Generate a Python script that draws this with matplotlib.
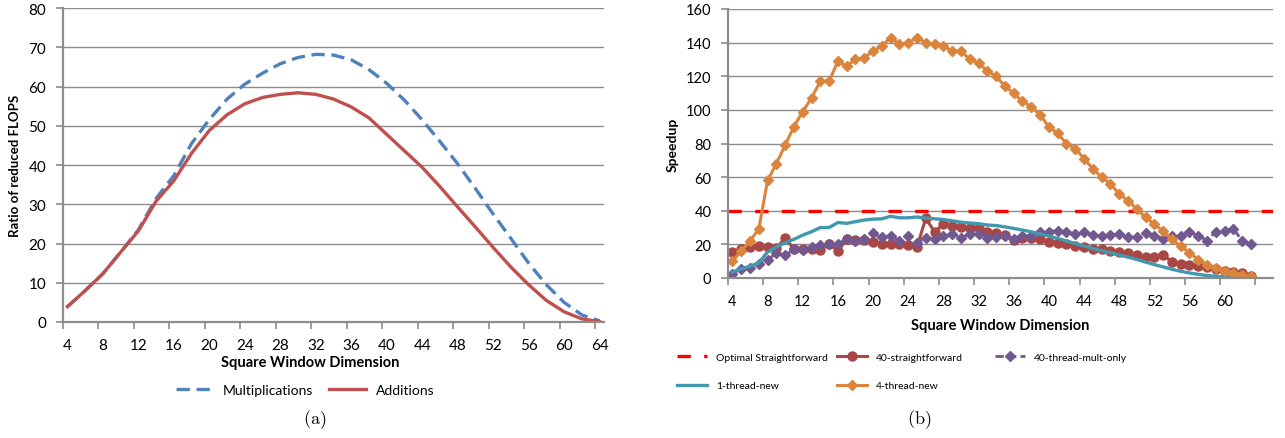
import matplotlib.pyplot as plt
import numpy as np
from matplotlib.lines import Line2D

plt.rcParams['font.family'] = ['Lato', 'DejaVu Sans']
plt.rcParams['mathtext.fontset'] = 'cm'

# (a) ratio of reduced FLOPS, window size 4..64 (every 2)
dim_a = list(range(4, 65, 2))
mult = [3.9, 8, 12.3, 17.8, 23.5, 31.5, 37.3, 45.5, 51.6, 56.8, 60.6,
        63.4, 65.8, 67.4, 68.2, 68.0, 66.8, 64.3, 60.8, 56.5, 51.5,
        46.0, 40.3, 34.0, 27.5, 21.3, 15.0, 9.5, 5.0, 1.8, 0.3]
adds = [3.9, 8, 12.3, 17.8, 23.2, 30.8, 36.0, 43.0, 48.8, 52.8, 55.6,
        57.2, 58.0, 58.4, 58.0, 56.8, 54.8, 52.0, 47.8, 43.6, 39.4,
        34.5, 29.3, 24.2, 19.0, 14.0, 9.5, 5.5, 2.6, 0.8, 0.1]

# (b) speedup, window size 4..63
dim_b = list(range(4, 64))
optimal_speedup = 40
straight_40 = [15.5, 17, 18.5, 19, 18.5, 18, 23.5, 17.5, 17.5, 17.5,
               16.5, 20.5, 16, 23, 22.5, 22.5, 21.5, 20.5, 20.5, 20.5,
               19.5, 18.5, 35.5, 27.5, 32, 31, 30.5, 29.5, 29.5, 27.5,
               26.5, 25.5, 22.5, 24, 24, 23, 21.5, 21, 20, 19.2,
               18.3, 17.3, 17, 16.3, 15.3, 15, 13.7, 12.3, 12.3, 13.7,
               9.7, 8.3, 7.7, 7, 6.3, 5.4, 4.4, 3.4, 2.8, 1.4]
mult_only_40 = [2.5, 5.5, 6, 8.5, 10.5, 15, 13.5, 17, 16.5, 18.5,
                19.5, 20, 20.5, 23, 22, 23, 26.5, 24.2, 25, 22.2,
                25.2, 21, 23.8, 23.2, 25.2, 26.2, 24, 26.2, 26, 24,
                24.2, 25.2, 23.2, 24.8, 25.2, 27.2, 27.6, 28.2, 27.6, 26.2,
                27.2, 25.6, 25.2, 25.6, 26.2, 24.2, 24.2, 26.8, 25.2, 23.2,
                25.2, 24.8, 27.2, 25.2, 22.2, 27.6, 28.2, 29.2, 22.2, 20.2]
new_1 = [3.5, 5.5, 7, 9, 15.5, 18.5, 21, 23, 25.5, 27.5,
         30, 30, 33, 32.5, 33.5, 34.5, 35, 35.2, 36.7, 35.8,
         35.8, 36.3, 35.6, 35.2, 34.8, 34, 33.2, 32.7, 32.3, 31.5,
         31.2, 30.4, 29.5, 28.5, 27.5, 26.2, 25, 23.5, 22, 20.5,
         19, 17.5, 16.3, 15, 13.6, 12.5, 11, 9.5, 8, 6.6,
         5.2, 4, 3, 2.2, 1.5, 1, 0.5, 0.3, 0.2, 0.1]
new_4 = [10, 16, 22, 29, 58, 68, 79, 90, 99, 107,
         117, 117, 129, 126, 130, 131, 135, 138, 143, 139,
         140, 143, 140, 139, 138, 135, 135, 130, 128, 123,
         120, 114, 110, 105, 102, 97, 90, 86, 80, 77,
         71, 65, 60, 56, 50, 46, 41, 36, 32, 28,
         23, 19, 15, 11, 8, 6, 4, 3, 2, 1]

GRID = '#8c8c8c'
W, H = 1285, 439


def style_axis(ax, ymax, ystep, xlabels_max, xmax, fs):
    ax.set_ylim(0, ymax)
    ax.set_xlim(3.5, xmax)
    ax.set_yticks(np.arange(0, ymax + 1, ystep))
    ax.set_xticks(np.arange(4, xlabels_max + 1, 4))
    ax.set_xticks(np.arange(3.5, xmax, 4), minor=True)
    ax.tick_params(axis='y', length=5, width=1.2, color=GRID, pad=7, labelsize=fs)
    ax.tick_params(axis='x', which='major', length=0, pad=11.5, labelsize=fs)
    ax.tick_params(axis='x', which='minor', length=5, width=1.2, color=GRID)
    ax.grid(axis='y', color=GRID, linewidth=1.0)
    ax.set_axisbelow(True)
    for s in ['top', 'right']:
        ax.spines[s].set_visible(False)
    for s in ['left', 'bottom']:
        ax.spines[s].set_color(GRID)
        ax.spines[s].set_linewidth(1.6)


fig = plt.figure(figsize=(W / 100, H / 100), dpi=100)

# ---------- (a) ----------
ax1 = fig.add_axes([63 / W, 1 - 323 / H, (604 - 63) / W, (323 - 9) / H])
ax1.plot(dim_a, mult, color='#4F81BD', lw=2.4, dashes=(4, 2), label='Multiplications')
ax1.plot(dim_a, adds, color='#C0504D', lw=2.4, label='Additions')
style_axis(ax1, 80, 10, 64, 64.5, 11)
ax1.set_xlabel('Square Window Dimension', fontsize=10.5, fontweight='bold')
ax1.xaxis.set_label_coords(0.457, -0.127)
ax1.xaxis.label.set_verticalalignment('center')
ax1.set_ylabel('Ratio of reduced FLOPS', fontsize=9.5, fontweight='bold')
ax1.yaxis.set_label_coords(-0.089, 0.5)
ax1.yaxis.label.set_verticalalignment('center')
fig.legend(handles=ax1.get_lines(), loc='center', ncol=2,
           bbox_to_anchor=(305 / W, 1 - 391 / H), frameon=False, fontsize=10,
           handlelength=2.7, handletextpad=0.7, columnspacing=1.1, borderpad=0)
fig.text(315 / W, 1 - 420 / H, r'$\mathrm{(a)}$', fontsize=13, ha='center', va='center')

# ---------- (b) ----------
ax2 = fig.add_axes([728 / W, 1 - 279 / H, (1273 - 728) / W, (279 - 10) / H])
h_opt = ax2.axhline(optimal_speedup, color='#FF0000', lw=2.4, dashes=(4, 4),
                    label='Optimal Straightforward')
h_s40, = ax2.plot(dim_b, straight_40, color='#AA4643', lw=2.2, marker='o', ms=6.5,
                  label='40-straightforward')
h_m40, = ax2.plot(dim_b, mult_only_40, color='#71588F', lw=2, dashes=(3, 1.5), marker='D',
                  ms=5.5, label='40-thread-mult-only')
h_n1, = ax2.plot(dim_b, new_1, color='#4198AF', lw=2.4, label='1-thread-new')
h_n4, = ax2.plot(dim_b, new_4, color='#DB843D', lw=2.2, marker='D', ms=5,
                 label='4-thread-new')
style_axis(ax2, 160, 20, 60, 65.5, 10.5)
ax2.set_xlabel('Square Window Dimension', fontsize=10.5, fontweight='bold')
ax2.xaxis.set_label_coords(0.5, -0.175)
ax2.xaxis.label.set_verticalalignment('center')
ax2.set_ylabel('Speedup', fontsize=10, fontweight='bold')
ax2.yaxis.set_label_coords(-0.101, 0.5)
ax2.yaxis.label.set_verticalalignment('center')

leg_kw = dict(frameon=False, fontsize=7.5, handlelength=2.9, handletextpad=0.8,
              labelspacing=1.8, borderpad=0, loc='center left')
cols = [([h_opt, h_n1], 672, (358 + 387) / 2),
        ([h_s40, h_n4], 832, (358 + 387) / 2),
        ([h_m40], 990, 358)]
for handles, x0, yc in cols:
    lg = fig.legend(handles=handles, bbox_to_anchor=(x0 / W, 1 - yc / H), **leg_kw)
fig.text(919 / W, 1 - 420 / H, r'$\mathrm{(b)}$', fontsize=13, ha='center', va='center')

plt.savefig('out.png', dpi=100, facecolor='white')
plt.close()
